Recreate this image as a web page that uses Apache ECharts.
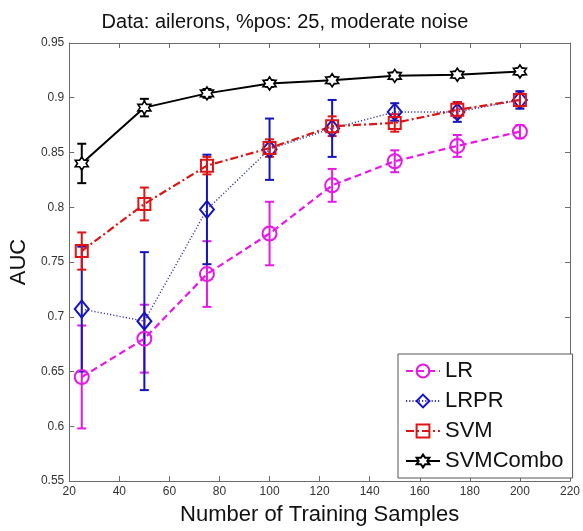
<!DOCTYPE html>
<html>
<head>
<meta charset="utf-8">
<script src="https://cdn.jsdelivr.net/npm/echarts@6/dist/echarts.min.js"></script>
<style>
  html, body { margin: 0; padding: 0; background: #fff; }
  #chart { width: 583px; height: 531px; }
</style>
</head>
<body>
<div id="chart"></div>
<script>
// Training-set sizes on the x axis
const samples = [25, 50, 75, 100, 125, 150, 175, 200];

// Mean AUC per method, with error-bar half widths
const lrAuc      = [0.645, 0.680, 0.739, 0.776, 0.820, 0.842, 0.856, 0.869];
const lrErr      = [0.047, 0.031, 0.030, 0.029, 0.015, 0.010, 0.010, 0.006];
const lrprAuc    = [0.707, 0.696, 0.798, 0.853, 0.872, 0.887, 0.887, 0.898];
const lrprErr    = [0.057, 0.063, 0.050, 0.028, 0.026, 0.008, 0.009, 0.008];
const svmAuc     = [0.760, 0.803, 0.838, 0.854, 0.874, 0.877, 0.889, 0.898];
const svmErr     = [0.017, 0.015, 0.008, 0.008, 0.009, 0.008, 0.007, 0.006];
const comboAuc   = [0.840, 0.891, 0.904, 0.913, 0.916, 0.920, 0.921, 0.924];
const comboErr   = [0.018, 0.008, 0.004, 0.003, 0.003, 0.003, 0.003, 0.003];

const methodNames = ['LR', 'LRPR', 'SVM', 'SVMCombo'];
const titleText = 'Data: ailerons, %pos: 25, moderate noise';
const xTitle = 'Number of Training Samples';
const yTitle = 'AUC';

const FONT = '"Liberation Sans", Arial, sans-serif';
const AXIS_GRAY = '#6b6b6b';

// six-pointed star outline
const HEXAGRAM = 'path://M0,-10L2.887,-5L8.66,-5L5.774,0L8.66,5L2.887,5L0,10L-2.887,5L-8.66,5L-5.774,0L-8.66,-5L-2.887,-5Z';

const styles = {
  LR:       { color: '#e619e6', lineColor: '#e619e6', dash: [7, 4], width: 2.2, symbol: 'circle', size: 14 },
  LRPR:     { color: '#1414c0', lineColor: '#3a3aa8', dash: [1.2, 2], width: 1.4, symbol: 'diamond', size: [14, 17] },
  SVM:      { color: '#e01414', lineColor: '#d81818', dash: [8, 3, 2, 3], width: 2.2, symbol: 'rect', size: 12 },
  SVMCombo: { color: '#000000', lineColor: '#000000', dash: 'solid', width: 2, symbol: HEXAGRAM, size: 13 }
};

const means = { LR: lrAuc, LRPR: lrprAuc, SVM: svmAuc, SVMCombo: comboAuc };
const errs  = { LR: lrErr, LRPR: lrprErr, SVM: svmErr, SVMCombo: comboErr };

function errorBarSeries(name) {
  const st = styles[name];
  const data = samples.map((x, i) => [x, means[name][i] - errs[name][i], means[name][i] + errs[name][i]]);
  return {
    type: 'custom',
    name: name + ' err',
    z: 3,
    silent: true,
    data: data,
    encode: { x: 0, y: [1, 2] },
    renderItem: function (params, api) {
      const x = api.value(0);
      const lo = api.coord([x, api.value(1)]);
      const hi = api.coord([x, api.value(2)]);
      const cap = 4.5;
      const ls = { stroke: st.color, lineWidth: 2 };
      return {
        type: 'group',
        children: [
          { type: 'line', shape: { x1: lo[0], y1: lo[1], x2: hi[0], y2: hi[1] }, style: ls },
          { type: 'line', shape: { x1: lo[0] - cap, y1: lo[1], x2: lo[0] + cap, y2: lo[1] }, style: ls },
          { type: 'line', shape: { x1: hi[0] - cap, y1: hi[1], x2: hi[0] + cap, y2: hi[1] }, style: ls }
        ]
      };
    }
  };
}

function lineSeries(name) {
  const st = styles[name];
  return {
    type: 'line',
    name: name,
    z: 4,
    data: samples.map((x, i) => [x, means[name][i]]),
    symbol: st.symbol,
    symbolSize: st.size,
    showAllSymbol: true,
    lineStyle: { color: st.lineColor, width: st.width, type: st.dash },
    itemStyle: {
      color: name === 'SVMCombo' ? '#ffffff' : 'rgba(255,255,255,0)',
      borderColor: st.color,
      borderWidth: name === 'SVMCombo' ? 1.6 : 2
    },
    emphasis: { disabled: true },
    animation: false
  };
}

const series = [];
methodNames.forEach(n => series.push(errorBarSeries(n)));
methodNames.forEach(n => series.push(lineSeries(n)));

const tickLabel = v => String(parseFloat(v.toFixed(2)));

const baseX = {
  type: 'value', min: 20, max: 220, interval: 20,
  axisLine: { show: true, lineStyle: { color: AXIS_GRAY, width: 1 } },
  axisTick: { show: true, inside: true, length: 5, lineStyle: { color: AXIS_GRAY } },
  splitLine: { show: false }
};
const baseY = {
  type: 'value', min: 0.55, max: 0.95, interval: 0.05,
  axisLine: { show: true, lineStyle: { color: AXIS_GRAY, width: 1 } },
  axisTick: { show: true, inside: true, length: 5, lineStyle: { color: AXIS_GRAY } },
  splitLine: { show: false }
};

const chart = echarts.init(document.getElementById('chart'), null, { renderer: 'canvas' });
chart.setOption({
  animation: false,
  backgroundColor: '#ffffff',
  grid: { left: 67, top: 43, width: 505, height: 441, containLabel: false },
  graphic: [{
    type: 'text',
    x: 285, y: 12,
    style: {
      text: titleText,
      font: '20px ' + FONT,
      fill: '#111111',
      textAlign: 'center',
      textVerticalAlign: 'top'
    }
  }],
  xAxis: [
    Object.assign({}, baseX, {
      position: 'bottom',
      axisLabel: { show: true, margin: 5, color: '#333333', fontSize: 12, fontFamily: FONT, formatter: tickLabel },
      name: xTitle, nameLocation: 'middle', nameGap: 23,
      nameTextStyle: { fontSize: 22, fontFamily: FONT, color: '#111111' }
    }),
    Object.assign({}, baseX, { position: 'top', axisLabel: { show: false } })
  ],
  yAxis: [
    Object.assign({}, baseY, {
      position: 'left',
      axisLabel: { show: true, margin: 5, color: '#333333', fontSize: 12, fontFamily: FONT, formatter: tickLabel },
      name: yTitle, nameLocation: 'middle', nameGap: 27,
      nameTextStyle: { fontSize: 22, fontFamily: FONT, color: '#111111' }
    }),
    Object.assign({}, baseY, { position: 'right', axisLabel: { show: false } })
  ],
  legend: {
    data: methodNames,
    orient: 'vertical',
    left: 398, top: 354,
    padding: [2, 9, 2, 7],
    itemWidth: 34, itemHeight: 16, itemGap: 0,
    backgroundColor: '#ffffff',
    borderColor: '#555555', borderWidth: 1, borderRadius: 0,
    textStyle: { fontSize: 22, fontFamily: FONT, color: '#111111', lineHeight: 30, height: 30 },
    selectedMode: false
  },
  series: series
});
</script>
</body>
</html>
